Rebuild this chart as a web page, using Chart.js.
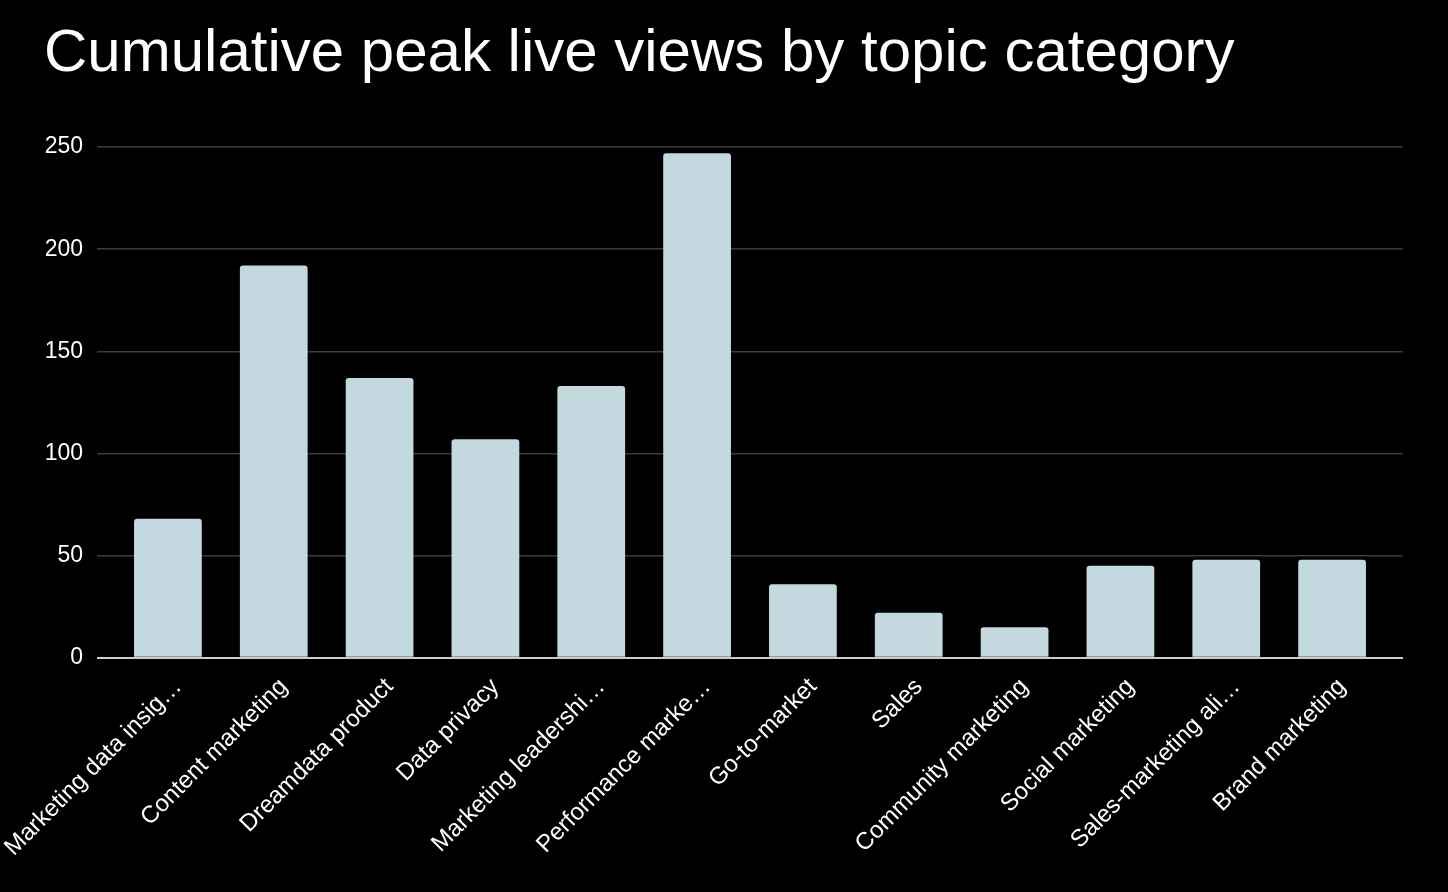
<!DOCTYPE html>
<html>
<head>
<meta charset="utf-8">
<script src="https://cdn.jsdelivr.net/npm/chart.js@4/dist/chart.umd.min.js"></script>
<style>
  html, body { margin: 0; padding: 0; background: #000; }
  #wrap { width: 1448px; height: 892px; }
</style>
</head>
<body>
<div id="wrap"><canvas id="c" width="1448" height="892"></canvas></div>
<script>
const titleText = "Cumulative peak live views by topic category";
const categories = [
  "Marketing data insig…",
  "Content marketing",
  "Dreamdata product",
  "Data privacy",
  "Marketing leadershi…",
  "Performance marke…",
  "Go-to-market",
  "Sales",
  "Community marketing",
  "Social marketing",
  "Sales-marketing ali…",
  "Brand marketing"
];
const peakViews = [68, 192, 137, 107, 133, 247, 36, 22, 15, 45, 48, 48];
const yTicks = [0, 50, 100, 150, 200, 250];

const font = "'Liberation Sans', Arial, sans-serif";
const gridColor = (ctx) => (ctx.tick && ctx.tick.value === 0) ? '#cccccc' : '#3c3c3c';
const gridWidth = (ctx) => (ctx.tick && ctx.tick.value === 0) ? 2 : 1.5;

function dropLabelOverflow(scale) {
  scale.paddingLeft = 0;
  scale.paddingRight = 0;
  if (scale._margins) {
    scale._margins.left = 0;
    scale._margins.right = 0;
  }
}

new Chart(document.getElementById('c'), {
  type: 'bar',
  data: {
    labels: categories,
    datasets: [{
      data: peakViews,
      backgroundColor: '#c4d8e0',
      borderRadius: 3,
      borderSkipped: 'bottom',
      barPercentage: 0.64,
      categoryPercentage: 1.0
    }]
  },
  options: {
    responsive: false,
    animation: false,
    layout: { padding: { left: 44, right: 45, top: 18, bottom: 23 } },
    plugins: {
      legend: { display: false },
      tooltip: { enabled: false },
      title: {
        display: true,
        text: titleText,
        align: 'start',
        color: '#ffffff',
        font: { family: font, size: 60, weight: 'normal' },
        padding: { top: 0, bottom: 57 }
      }
    },
    scales: {
      x: {
        grid: { display: false },
        border: { display: false },
        afterFit: dropLabelOverflow,
        ticks: {
          color: '#ffffff',
          font: { family: font, size: 24 },
          maxRotation: 45,
          minRotation: 45,
          autoSkip: false,
          padding: 7,
          labelOffset: 10
        }
      },
      y: {
        min: 0,
        max: 250,
        afterBuildTicks: (axis) => { axis.ticks = yTicks.map(v => ({ value: v })); },
        afterFit: (s) => { s.width = 71; },
        grid: {
          color: gridColor,
          lineWidth: gridWidth,
          drawTicks: true,
          tickLength: 18
        },
        border: { display: false },
        ticks: {
          color: '#ffffff',
          font: { family: font, size: 23 },
          padding: 14
        }
      },
      yRight: {
        position: 'right',
        min: 0,
        max: 250,
        afterBuildTicks: (axis) => { axis.ticks = yTicks.map(v => ({ value: v })); },
        grid: {
          color: gridColor,
          lineWidth: gridWidth,
          drawOnChartArea: false,
          drawTicks: true,
          tickLength: 18
        },
        border: { display: false },
        ticks: { display: false }
      }
    }
  }
});
</script>
</body>
</html>
